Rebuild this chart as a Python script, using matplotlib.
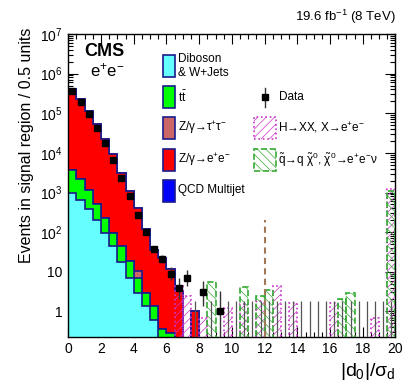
import numpy as np
import matplotlib
matplotlib.use('Agg')
import matplotlib.pyplot as plt
from matplotlib.patches import Rectangle
from matplotlib.lines import Line2D
from matplotlib.ticker import MultipleLocator, LogLocator, FixedLocator, FixedFormatter, NullFormatter

plt.rcParams['font.family'] = ['Liberation Sans', 'DejaVu Sans']
plt.rcParams['mathtext.fontset'] = 'custom'
plt.rcParams['mathtext.rm'] = 'Liberation Sans'
plt.rcParams['mathtext.it'] = 'Liberation Sans'
plt.rcParams['mathtext.bf'] = 'Liberation Sans:bold'
plt.rcParams['mathtext.sf'] = 'Liberation Sans'
plt.rcParams['hatch.linewidth'] = 0.5

# ---------------- data ----------------
bin_lo, bin_hi, bin_width = 0.0, 20.0, 0.5

diboson = [1000, 630, 380, 200, 95, 44, 18, 6.9, 2.9, 1.35,
           0.62, 0, 0, 0, 0, 0, 0, 0, 0, 0,
           0, 0, 0, 0, 0, 0, 0, 0, 0, 0,
           0, 0, 0, 0, 0, 0, 0, 0, 0, 0]
ttbar = [2800, 1510, 795, 325, 134, 51.5, 25.7, 11.3, 4.0, 1.55,
         0.73, 0.35, 0.28, 0, 0, 0, 0, 0, 0, 0,
         0, 0, 0, 0, 0, 0, 0, 0, 0, 0,
         0, 0, 0, 0, 0, 0, 0, 0, 0, 0]
ztautau = [0, 0, 0, 0, 0, 0, 0, 0, 3.3, 0,
           0, 0, 0, 0, 0, 0, 0, 0, 0, 0,
           0, 0, 0, 0, 0, 0, 0, 0, 0, 0,
           0, 0, 0, 0, 0, 0, 0, 0, 0, 0]
zee = [394000, 222000, 111000, 53200, 21700, 9030, 2980, 1050, 397, 117,
       35, 22, 11.4, 3.2, 0, 1.0, 0, 0, 0, 0,
       0, 0, 0, 0, 0, 0, 0, 0, 0, 0,
       0, 0, 0, 0, 0, 0, 0, 0, 0, 0]
qcd = [0, 0, 0, 0, 0, 0, 0, 0, 0, 0,
       0, 0, 0, 0, 0, 0, 0, 0, 0, 0,
       0, 0, 0, 0, 0, 0, 0, 0, 0, 0,
       0, 0, 0, 0, 0, 0, 0, 0, 0, 0]

data_counts = [355000, 195000, 93300, 41700, 17400, 6460, 2290, 813, 275, 100,
               38, 21, 9, 4, 7, 0, 3, 0, 1, 0,
               0, 0, 0, 0, 0, 0, 0, 0, 0, 0,
               0, 0, 0, 0, 0, 0, 0, 0, 0, 0]
data_err_dn = [596, 442, 305, 204, 132, 80, 48, 29, 17, 9.98,
               6.13, 4.55, 2.94, 1.91, 2.58, 0, 1.63, 0, 0.83, 0,
               0, 0, 0, 0, 0, 0, 0, 0, 0, 0,
               0, 0, 0, 0, 0, 0, 0, 0, 0, 0]
data_err_up = [596, 442, 305, 204, 132, 80, 48, 29, 17, 11.0,
               7.22, 5.63, 4.11, 3.16, 3.77, 1.84, 2.92, 1.84, 2.30, 1.84,
               1.84, 1.84, 1.84, 1.84, 1.84, 1.84, 1.84, 1.84, 1.84, 1.84,
               1.84, 1.84, 1.84, 1.84, 1.84, 1.84, 1.84, 1.84, 1.84, 1.84]

h_signal = [0, 0, 0, 0, 0, 0, 0, 0, 0, 0,
            0, 0, 0, 4.3, 2.4, 0, 0.68, 0, 0, 1.23,
            0, 1.5, 0, 1.8, 0, 4.5, 0, 1.6, 0, 0,
            0, 0, 1.6, 0, 0, 0, 0, 0.68, 0, 1230]
squark_signal = [0, 0, 0, 0, 0, 0, 0, 0, 0, 0,
                 0, 0, 0, 0, 0, 0, 0, 5.5, 0, 0,
                 0, 4.1, 0, 2.5, 3.5, 0, 0, 0, 0, 0,
                 0, 0, 0, 2.0, 2.9, 0, 0, 0, 0, 1100]

cut_x = 12.0
cut_top = 200.0

y_min, y_max = 0.23, 1.0e7

# ---------------- styles ----------------
c_dib = '#66ffff'
c_tt = '#00ff00'
c_ztt = '#cc6666'
c_zee = '#ff0000'
c_qcd = '#0000ff'
c_edge = '#1a1a8c'
c_h = '#cc33cc'
c_sq = '#33aa33'
c_cut = '#a07858'

W, H = 407, 391
fig = plt.figure(figsize=(W / 100, H / 100), dpi=100)
ax = fig.add_axes([68.3 / W, 1 - 336.7 / H, (395.5 - 68.3) / W, (336.7 - 34) / H])
ax.set_yscale('log')

edges = np.arange(bin_lo, bin_hi + bin_width / 2, bin_width)
centers = 0.5 * (edges[:-1] + edges[1:])

dib = np.array(diboson, float)
tt = np.array(ttbar, float)
ztt = np.array(ztautau, float)
ze = np.array(zee, float)
qc = np.array(qcd, float)

layers = [
    (dib + tt + ztt + ze + qc, c_qcd),
    (dib + tt + ztt + ze, c_zee),
    (dib + tt + ztt, c_ztt),
    (dib + tt, c_tt),
    (dib, c_dib),
]
for vals, col in layers:
    ax.stairs(vals, edges, baseline=0, fill=True, facecolor=col,
              edgecolor=c_edge, linewidth=1.2, zorder=2)

# signals
hs = np.array(h_signal, float)
sq = np.array(squark_signal, float)
m = hs > 0
ax.bar(centers[m], hs[m], width=bin_width, facecolor='none', edgecolor=c_h,
       hatch='////', linestyle=':', linewidth=1.2, zorder=3)
m = sq > 0
ax.bar(centers[m], sq[m], width=bin_width, facecolor='none', edgecolor=c_sq,
       hatch='\\\\\\\\', linestyle='--', linewidth=1.2, zorder=3)

# cut line
ax.vlines(cut_x, y_min, cut_top, colors=c_cut, linestyles=(0, (3, 2)), linewidth=1.5, zorder=4)

# data
dc = np.array(data_counts, float)
dn = np.array(data_err_dn, float)
up = np.array(data_err_up, float)
m = dc > 0
ax.errorbar(centers[m], dc[m], yerr=[dn[m], up[m]], fmt='s', color='black',
            ecolor='#333333', markersize=5, elinewidth=1, capsize=0, zorder=6)
z = dc == 0
ax.vlines(centers[z], y_min, dc[z] + up[z], colors='#555555', linewidth=0.9, zorder=5)

# axes
ax.set_xlim(bin_lo, bin_hi)
ax.set_ylim(y_min, y_max)
ax.xaxis.set_major_locator(MultipleLocator(2))
ax.xaxis.set_minor_locator(MultipleLocator(0.5))
ymaj = [1, 10, 1e2, 1e3, 1e4, 1e5, 1e6, 1e7]
ylab = ['1', '10', '$10^{2}$', '$10^{3}$', '$10^{4}$', '$10^{5}$', '$10^{6}$', '$10^{7}$']
ax.yaxis.set_major_locator(FixedLocator(ymaj))
ax.yaxis.set_major_formatter(FixedFormatter(ylab))
ax.yaxis.set_minor_locator(LogLocator(base=10, subs=np.arange(2, 10), numticks=20))
ax.yaxis.set_minor_formatter(NullFormatter())
ax.tick_params(which='both', direction='in', top=True, right=True, labelsize=10)
ax.tick_params(which='major', length=7, width=0.8, pad=4)
ax.tick_params(which='minor', length=3.5, width=0.8)
for s in ax.spines.values():
    s.set_linewidth(1.0)

def fx(px):
    return px / W

def fy(py):
    return 1 - py / H

fig.text(fx(27), fy(28), 'Events in signal region / 0.5 units', rotation=90,
         ha='center', va='top', fontsize=11.5)
fig.text(fx(395.5), fy(372), r'$|d_{0}|/\sigma_{d}$', ha='right', va='center', fontsize=14)
fig.text(fx(395.5), fy(17), r'19.6 fb$^{-1}$ (8 TeV)', ha='right', va='center', fontsize=9.5)
fig.text(fx(104), fy(52), 'CMS', ha='center', va='center', fontsize=13, fontweight='bold')
fig.text(fx(107), fy(70), r'e$^{+}$e$^{-}$', ha='center', va='center', fontsize=12)

# legend (manual)
leg_fs = 8.5
left_entries = [
    (66, c_dib, None),
    (97, c_tt, r'$\mathrm{t\bar{t}}$'),
    (128, c_ztt, r'Z/γ→τ$^{+}$τ$^{-}$'),
    (159.5, c_zee, r'Z/γ→e$^{+}$e$^{-}$'),
    (190.5, c_qcd, 'QCD Multijet'),
]
for pyc, col, lab in left_entries:
    fig.patches.append(Rectangle((fx(162.5), fy(pyc + 11)), 12.5 / W, 22 / H,
                                 transform=fig.transFigure, facecolor=col,
                                 edgecolor=c_edge, linewidth=1.2))
    if lab is not None:
        fig.text(fx(178), fy(pyc), lab, ha='left', va='center', fontsize=leg_fs)
fig.text(fx(178), fy(59.3), 'Diboson', ha='left', va='center', fontsize=leg_fs)
fig.text(fx(178), fy(72.7), '& W+Jets', ha='left', va='center', fontsize=leg_fs)

fig.lines.append(Line2D([fx(265), fx(265)], [fy(88), fy(107)], transform=fig.transFigure,
                        color='#333333', linewidth=1))
fig.lines.append(Line2D([fx(265)], [fy(97)], transform=fig.transFigure, marker='s',
                        markersize=5, color='black', linestyle='none'))
fig.text(fx(279), fy(97), 'Data', ha='left', va='center', fontsize=leg_fs)

fig.patches.append(Rectangle((fx(254), fy(139)), 22 / W, 22 / H, transform=fig.transFigure,
                             facecolor='none', edgecolor=c_h, hatch='////',
                             linestyle=':', linewidth=1.2))
fig.text(fx(277.5), fy(128), r'H→XX, X→e$^{+}$e$^{-}$',
         ha='left', va='center', fontsize=leg_fs)
fig.patches.append(Rectangle((fx(254), fy(170.5)), 22 / W, 22 / H, transform=fig.transFigure,
                             facecolor='none', edgecolor=c_sq, hatch='\\\\\\\\',
                             linestyle='--', linewidth=1.2))
fig.text(fx(277.5), fy(159.5),
         r'$\tilde{\mathrm{q}}$→q $\tilde{\chi}^{0}$, $\tilde{\chi}^{0}$→e$^{+}$e$^{-}$ν',
         ha='left', va='center', fontsize=leg_fs)

fig.savefig('out.png', dpi=100)
